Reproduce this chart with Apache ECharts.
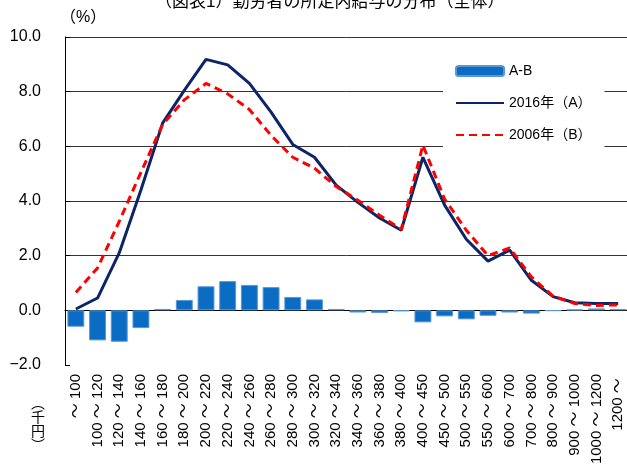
<!DOCTYPE html>
<html>
<head>
<meta charset="utf-8">
<script src="https://cdn.jsdelivr.net/npm/echarts@6/dist/echarts.min.js"></script>
<style>
  html, body { margin: 0; padding: 0; background: #fff; }
  #chart { width: 627px; height: 466px; }
</style>
</head>
<body>
<div id="chart"></div>
<script>
const categories = ['～100', '100～120', '120～140', '140～160', '160～180', '180～200', '200～220',
  '220～240', '240～260', '260～280', '280～300', '300～320', '320～340', '340～360', '360～380',
  '380～400', '400～450', '450～500', '500～550', '550～600', '600～700', '700～800', '800～900',
  '900～1000', '1000～1200', '1200～']

// 2016年(A)
const y2016 = [0.05, 0.45, 2.1, 4.4, 6.85, 8.05, 9.18, 8.98, 8.3, 7.25, 6.07, 5.6, 4.58,
  3.95, 3.38, 2.93, 5.6, 3.85, 2.6, 1.8, 2.2, 1.1, 0.5, 0.28, 0.25, 0.25]
// 2006年(B)
const y2006 = [0.65, 1.55, 3.25, 5.05, 6.8, 7.7, 8.3, 7.92, 7.35, 6.4, 5.6, 5.2, 4.53,
  4.03, 3.48, 2.96, 6.04, 4.07, 2.93, 2.0, 2.28, 1.22, 0.52, 0.25, 0.18, 0.2]
// A-B
const diff = [-0.6, -1.1, -1.15, -0.65, 0.05, 0.38, 0.88, 1.07, 0.93, 0.85, 0.49, 0.4, 0.05,
  -0.08, -0.1, -0.03, -0.44, -0.22, -0.33, -0.2, -0.08, -0.12, -0.02, 0.03, 0.07, 0.05]

const FONT = "'Liberation Sans', 'Noto Sans CJK JP', sans-serif"

const chart = echarts.init(document.getElementById('chart'))

chart.setOption({
  animation: false,
  textStyle: { fontFamily: FONT, color: '#000' },
  title: {
    text: '（図表1）勤労者の所定内給与の分布（全体）',
    left: 150,
    top: -11,
    textStyle: { fontSize: 17, fontWeight: 'normal', color: '#000', fontFamily: FONT }
  },
  graphic: [
    {
      type: 'text',
      left: 60,
      top: 10,
      style: { text: '（%）', font: '16px ' + FONT, fill: '#000' }
    },
    {
      type: 'text',
      x: 38,
      y: 397,
      style: {
        text: '︵\n千\n円\n︶',
        font: '14px ' + FONT,
        fill: '#000',
        align: 'center',
        lineHeight: 14
      }
    }
  ],
  legend: {
    orient: 'vertical',
    left: 443,
    top: 58,
    padding: [6, 13, 6, 12],
    backgroundColor: '#fff',
    itemWidth: 48,
    itemHeight: 10,
    itemGap: 18,
    textStyle: { fontSize: 14, color: '#000', fontFamily: FONT },
    data: [
      { name: 'A-B' },
      { name: '2016年（A）', itemStyle: { opacity: 0 } },
      { name: '2006年（B）', itemStyle: { opacity: 0 } }
    ]
  },
  grid: { left: 65, top: 37, right: -2, bottom: 101, outerBoundsMode: 'none' },
  xAxis: {
    type: 'category',
    data: categories,
    axisLine: { onZero: true, lineStyle: { color: '#000', width: 1 } },
    axisTick: { inside: true, length: 5, lineStyle: { color: '#000' } },
    axisLabel: {
      interval: 0,
      rotate: 90,
      margin: 9,
      fontSize: 15,
      color: '#000',
      fontFamily: FONT,
      formatter: (s) => s.replace('～', ' ～ ')
    }
  },
  yAxis: {
    type: 'value',
    min: -2,
    max: 10,
    interval: 2,
    axisLine: { show: true, lineStyle: { color: '#000', width: 1 } },
    axisTick: { show: true, inside: true, length: 5, lineStyle: { color: '#000' } },
    axisLabel: {
      margin: 24,
      fontSize: 16,
      color: '#000',
      fontFamily: FONT,
      formatter: (v) => (v < 0 ? '−' : '') + Math.abs(v).toFixed(1)
    },
    splitLine: { show: true, showMinLine: false, lineStyle: { color: '#333', width: 1 } }
  },
  series: [
    {
      name: 'A-B',
      type: 'bar',
      data: diff,
      barWidth: '78%',
      itemStyle: { color: '#0B6CC3', borderColor: '#5a97d8', borderWidth: 1 }
    },
    {
      name: '2016年（A）',
      type: 'line',
      data: y2016,
      symbol: 'none',
      itemStyle: { color: '#0D2466' },
      lineStyle: { color: '#0D2466', width: 3 }
    },
    {
      name: '2006年（B）',
      type: 'line',
      data: y2006,
      symbol: 'none',
      itemStyle: { color: '#FF0000' },
      lineStyle: { color: '#FF0000', width: 3, type: [8, 5] }
    }
  ]
})
</script>
</body>
</html>
